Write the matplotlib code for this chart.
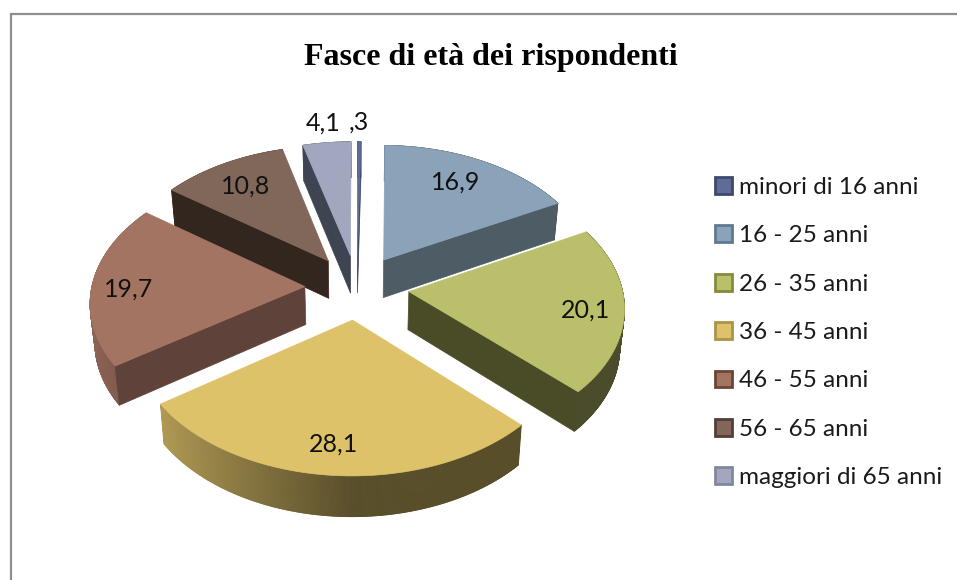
import numpy as np
import matplotlib
matplotlib.use("Agg")
import matplotlib.pyplot as plt
from matplotlib.patches import Patch, Polygon
from matplotlib.collections import PolyCollection
from matplotlib.colors import to_rgb

categories = ["minori di 16 anni", "16 - 25 anni", "26 - 35 anni", "36 - 45 anni",
              "46 - 55 anni", "56 - 65 anni", "maggiori di 65 anni"]
values = [0.3, 16.9, 20.1, 28.1, 19.7, 10.8, 4.1]
value_labels = [",3", "16,9", "20,1", "28,1", "19,7", "10,8", "4,1"]
title = "Fasce di età dei rispondenti"

top_colors = ["#5F6C95", "#8BA3B8", "#BABF6B", "#DEC26A", "#A47462", "#806759", "#A2A7BF"]
edge_colors = ["#3E4A70", "#5F7A90", "#858A3C", "#AD9348", "#6E4438", "#553E35", "#8287A0"]
wall_colors = ["#3A4260", "#4E5C66", "#4A4C27", "#574822", "#5F4239", "#33261F", "#3F4452"]
label_pos = [(359, 122), (456, 182), (585, 310), (334, 444), (129, 289), (246, 186), (323, 123)]

# projection of the pie plane to pixels
cx, cy = 357, 287
rx, ry = 213, 132
persp = 0.105
explode = 0.245
height = 38
shrink = 0.982


def project(x, z, lower=False):
    s = 1 / (1 - persp * z)
    px = rx * x * s
    py = cy + ry * z * s
    if lower:
        return cx + px * shrink, py + height * np.sqrt(s)
    return cx + px, py


fig = plt.figure(figsize=(9.57, 5.80), dpi=100, facecolor="white")
ax = fig.add_axes([0, 0, 1, 1])
ax.set_xlim(0, 957)
ax.set_ylim(580, 0)
ax.axis("off")

# grey chart border, only left and top are in the picture
ax.plot([10.5, 10.5, 957], [580, 13.5, 13.5], color="#8E8E8E", lw=1.6, solid_joinstyle="miter")

frac = np.cumsum([0] + values) / sum(values) * 2 * np.pi
mids = (frac[:-1] + frac[1:]) / 2
order = np.argsort(-np.cos(mids))  # far wedges first

for i in order:
    a0, a1 = frac[i], frac[i + 1]
    dx = explode * np.sin(mids[i])
    dz = -explode * np.cos(mids[i])
    theta = np.linspace(a0, a1, max(int(np.degrees(a1 - a0) * 4), 2) + 1)
    ox = dx + np.sin(theta)
    oz = dz - np.cos(theta)

    # outer rim, lit from the left
    xs, ys = project(ox, oz)
    xb, yb = project(ox, oz, lower=True)
    quads = []
    shades = []
    base = np.array(to_rgb(top_colors[i]))
    for j in range(len(theta) - 1):
        quads.append([(xs[j], ys[j]), (xs[j + 1], ys[j + 1]), (xb[j + 1], yb[j + 1]), (xb[j], yb[j])])
        shade = 0.40 + 0.47 * max(0, -np.sin((theta[j] + theta[j + 1]) / 2))
        shades.append(base * shade)
    ax.add_collection(PolyCollection(quads, facecolors=shades, edgecolors=shades, linewidths=0.6))

    # cut sides of the slice, only those facing the viewer
    for end, visible in [(0, np.sin(a0) < 0), (-1, np.sin(a1) > 0)]:
        if not visible:
            continue
        xa, ya = project(np.array([dx, ox[end]]), np.array([dz, oz[end]]))
        xc, yc = project(np.array([dx, ox[end]]), np.array([dz, oz[end]]), lower=True)
        ax.add_patch(Polygon(np.column_stack([np.r_[xa, xc[::-1]], np.r_[ya, yc[::-1]]]),
                             closed=True, fc=wall_colors[i], ec=wall_colors[i], lw=0.5))

    # top face
    ax.add_patch(Polygon(np.column_stack([np.r_[project(dx, dz)[0], xs], np.r_[project(dx, dz)[1], ys]]),
                         closed=True, fc=top_colors[i], ec=top_colors[i], lw=0.5))

for pos, txt in zip(label_pos, value_labels):
    ax.text(pos[0], pos[1], txt, ha="center", va="center", fontsize=18, family="Lato", color="#111111")

ax.text(491, 58, title, ha="center", va="center", fontsize=23, fontweight="bold",
        family="Liberation Serif", color="black")

handles = [Patch(fc=top_colors[i], ec=edge_colors[i], lw=2) for i in range(len(categories))]
ax.legend(handles, categories, loc="upper left", bbox_to_anchor=(715, 177), bbox_transform=ax.transData,
          frameon=False, prop={"family": "Lato", "size": 17.5}, handlelength=0.68, handleheight=0.68,
          handletextpad=0.3, labelspacing=1.126, borderaxespad=0, borderpad=0, labelcolor="#1A1A1A")

fig.savefig("out.png", dpi=100, facecolor="white")
